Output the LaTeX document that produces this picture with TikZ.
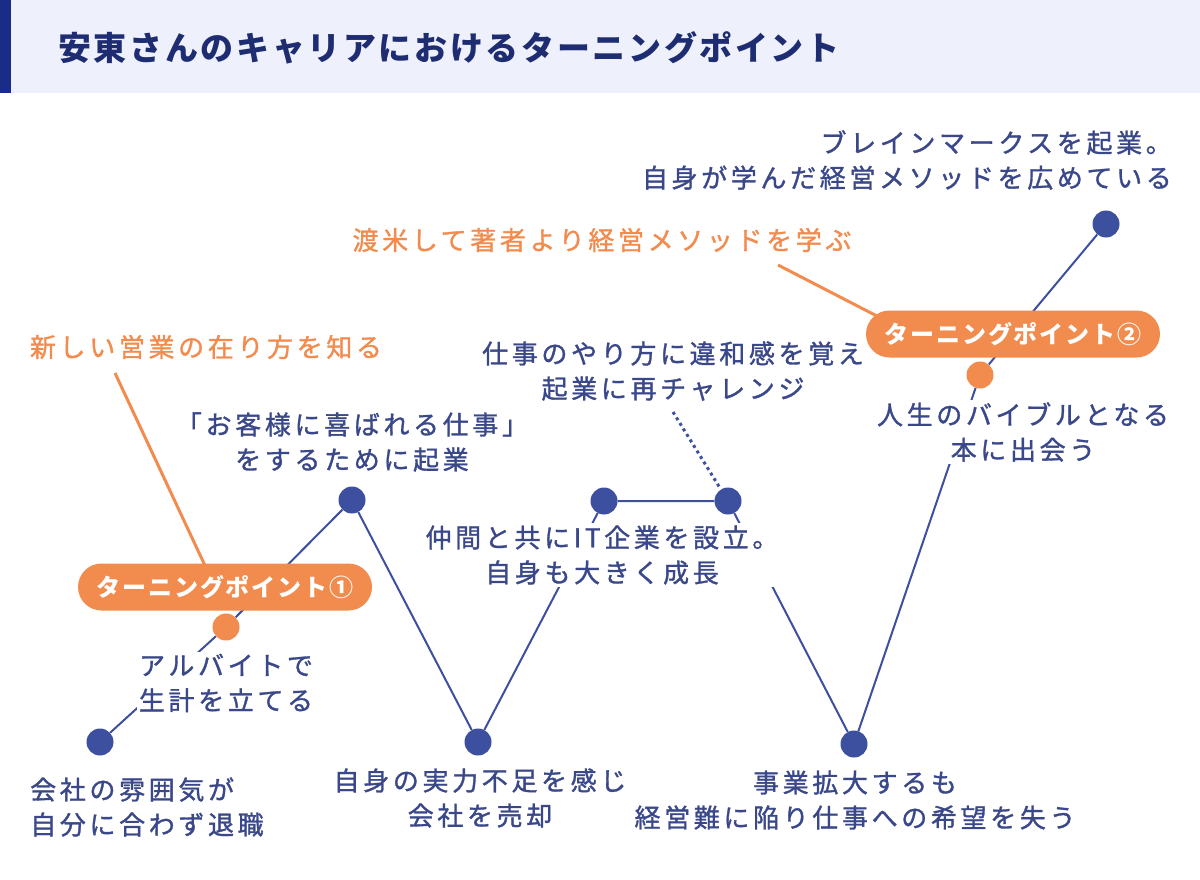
\documentclass[tikz,border=0pt]{standalone}
\usepackage{fontspec}
\usepackage{xcolor}
\usetikzlibrary{backgrounds, calc}
\newfontfamily\jpfont[LetterSpace=14, FakeBold=1.2]{Noto Sans CJK JP}
\newfontfamily\jpbold[LetterSpace=8]{Noto Sans CJK JP}
\definecolor{HeadBg}{RGB}{238, 240, 251}
\definecolor{HeadBar}{RGB}{26, 44, 138}
\definecolor{TitleNavy}{RGB}{30, 44, 114}
\definecolor{NavyText}{RGB}{58, 72, 138}
\definecolor{NavyDot}{RGB}{61, 80, 160}
\definecolor{OrangeMark}{RGB}{242, 139, 78}

\begin{document}
\begin{tikzpicture}[x=1pt, y=-1pt]
        \tikzset{
            event_dot/.style={circle, fill=NavyDot, minimum size=27pt, inner sep=0pt},
            turn_dot/.style={circle, fill=OrangeMark, minimum size=27pt, inner sep=0pt},
            event_text/.style={text=NavyText, font=\jpfont\fontsize{26}{35}\selectfont, align=center, fill=white, inner sep=2pt},
            turn_text/.style={text=OrangeMark, font=\jpfont\fontsize{26}{35}\selectfont},
            turn_pill/.style={rectangle, rounded corners=23.5pt, fill=OrangeMark, text=white, font=\jpbold\bfseries\fontsize{24}{30}\selectfont, minimum width=294pt, minimum height=47pt, inner sep=0pt},
            career_line/.style={NavyDot, line width=2pt},
            turn_line/.style={OrangeMark, line width=3pt},
            dotted_line/.style={NavyDot, line width=3pt, dash pattern=on 3pt off 3.5pt}
        }
        \useasboundingbox (0,0) rectangle (1200,880);

        % header
        \fill[HeadBg] (0,0) rectangle (1200,93);
        \fill[HeadBar] (0,0) rectangle (11,93);
        \node[anchor=west, text=TitleNavy, font=\jpbold\bfseries\fontsize{33}{38}\selectfont, inner sep=0pt] (title) at (58,48) {安東さんのキャリアにおけるターニングポイント};

        % points of the career
        \node[event_dot] (d1) at (100,742) {};
        \node[turn_dot] (o1) at (226,627) {};
        \node[event_dot] (d2) at (352,500) {};
        \node[event_dot] (d3) at (478,742) {};
        \node[event_dot] (d4) at (604,501) {};
        \node[event_dot] (d5) at (728,501) {};
        \node[event_dot] (d6) at (854,744) {};
        \node[turn_dot] (o2) at (980,375) {};
        \node[event_dot] (d7) at (1106,224) {};

        \node[event_text, align=left, anchor=west] (t1) at (28,807) {会社の雰囲気が\\自分に合わず退職};
        \node[event_text] (t2) at (226,683) {アルバイトで\\生計を立てる};
        \node[event_text] (t3) at (352,442) {「お客様に喜ばれる仕事」\\をするために起業};
        \node[event_text] (t4) at (480,798) {自身の実力不足を感じ\\会社を売却};
        \node[event_text] (t5) at (673,371) {仕事のやり方に違和感を覚え\\起業に再チャレンジ};
        \node[event_text] (t6) at (602,555) {仲間と共にIT企業を設立。\\自身も大きく成長};
        \node[event_text] (t7) at (855,800) {事業拡大するも\\経営難に陥り仕事への希望を失う};
        \node[event_text] (t8) at (1023,432) {人生のバイブルとなる\\本に出会う};
        \node[event_text, align=right, anchor=east] (t9) at (1174,160) {ブレインマークスを起業。\\自身が学んだ経営メソッドを広めている};

        % turning points
        \node[turn_text] (n1) at (206,347) {新しい営業の在り方を知る};
        \node[turn_text] (n2) at (602,240) {渡米して著者より経営メソッドを学ぶ};
        \node[turn_pill] (p1) at (225,587) {ターニングポイント①};
        \node[turn_pill] (p2) at (1013,334) {ターニングポイント②};

        \coordinate (c1) at (115,373);
        \coordinate (c2) at (778,265);
        \coordinate (c5) at (673,412);

        \begin{scope}[on background layer]
            \draw[career_line] (d1) -- (o1) -- (d2) -- (d3) -- (d4) -- (d5) -- (d6) -- (o2) -- (d7);
            \draw[turn_line] (c1) -- ([xshift=-10pt]p1.center);
            \draw[turn_line] (c2) -- ($(c2)!1.15!(p2.north west)$);
            \draw[dotted_line] (c5) -- (d5);
        \end{scope}

    \end{tikzpicture}
\end{document}
